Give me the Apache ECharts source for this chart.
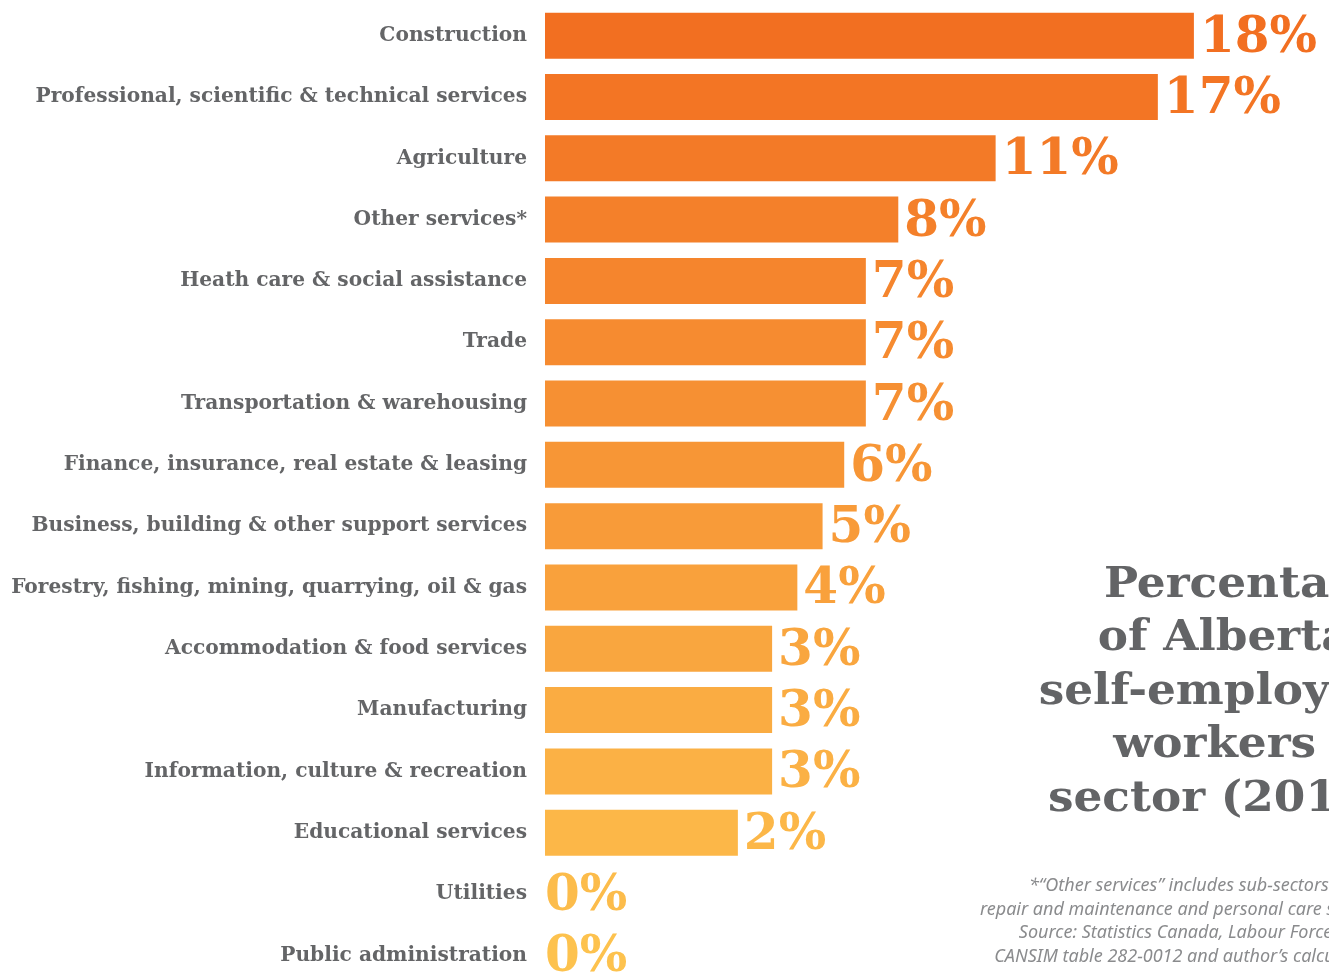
<!DOCTYPE html>
<html>
<head>
<meta charset="utf-8">
<script src="https://cdn.jsdelivr.net/npm/echarts@6/dist/echarts.min.js"></script>
<style>
  html, body { margin: 0; padding: 0; background: #fff; overflow: hidden; }
  /* taller than the window: the last row is cut by the page bottom, as in the original */
  #chart { width: 1329px; height: 990px; }
</style>
</head>
<body>
<div id="chart"></div>
<script>
// sectors, top to bottom
const sectors = [
  "Construction",
  "Professional, scientific & technical services",
  "Agriculture",
  "Other services*",
  "Heath care & social assistance",
  "Trade",
  "Transportation & warehousing",
  "Finance, insurance, real estate & leasing",
  "Business, building & other support services",
  "Forestry, fishing, mining, quarrying, oil & gas",
  "Accommodation & food services",
  "Manufacturing",
  "Information, culture & recreation",
  "Educational services",
  "Utilities",
  "Public administration"
];
// percent shown beside each bar
const shares = [18, 17, 11, 8, 7, 7, 7, 6, 5, 4, 3, 3, 3, 2, 0, 0];
// bar lengths as drawn in the original (not strictly proportional to the labels)
const barLengths = [18.0, 17.0, 12.5, 9.8, 8.9, 8.9, 8.9, 8.3, 7.7, 7.0, 6.3, 6.3, 6.3, 5.35, 0, 0];

const titleLines = ["Percentage", "of Alberta's", "self-employed", "workers by", "sector (2016)"];
const noteLines = [
  "*\u201cOther services\u201d includes sub-sectors such as",
  "repair and maintenance and personal care services.",
  "Source: Statistics Canada, Labour Force Survey,",
  "CANSIM table 282-0012 and author\u2019s calculations."
];

// orange -> yellow, top to bottom
function shade(i) {
  const a = [242, 111, 33], b = [253, 194, 78];
  const t = i / (sectors.length - 1);
  const c = a.map((v, k) => Math.round(v + (b[k] - v) * t));
  return "rgb(" + c.join(",") + ")";
}

const chart = echarts.init(document.getElementById("chart"));

const graphics = [];
titleLines.forEach((t, i) => {
  graphics.push({
    type: "text", x: 1390, y: 607 + i * 53.5, scaleX: 1.08,
    style: {
      text: t, font: "bold 42px 'DejaVu Serif'", fill: "#636466",
      textAlign: "right", textVerticalAlign: "bottom"
    }
  });
});
noteLines.forEach((t, i) => {
  graphics.push({
    type: "text", x: 1393, y: 886 + i * 23.5,
    style: {
      text: t, font: "italic 18px 'Noto Sans'", fill: "#8a8b8d",
      textAlign: "right", textVerticalAlign: "middle"
    }
  });
});

chart.setOption({
  animation: false,
  grid: { left: 545, width: 721, top: 5, height: 981 },
  xAxis: { type: "value", min: 0, max: 20, show: false },
  yAxis: {
    type: "category",
    inverse: true,
    data: sectors,
    axisLine: { show: false },
    axisTick: { show: false },
    axisLabel: {
      margin: 18,
      color: "#646567",
      fontFamily: "DejaVu Serif",
      fontWeight: "bold",
      fontSize: 20.2
    }
  },
  series: [{
    type: "bar",
    data: barLengths.map((v, i) => ({
      value: v,
      itemStyle: { color: shade(i) },
      label: { color: shade(i), distance: v > 0 ? 6 : 0 }
    })),
    barWidth: 46,
    label: {
      show: true,
      position: "right",
      offset: [0, 3],
      fontFamily: "DejaVu Serif",
      fontWeight: "bold",
      fontSize: 50,
      formatter: p => shares[p.dataIndex] + "%"
    }
  }],
  graphic: graphics
});
</script>
</body>
</html>
